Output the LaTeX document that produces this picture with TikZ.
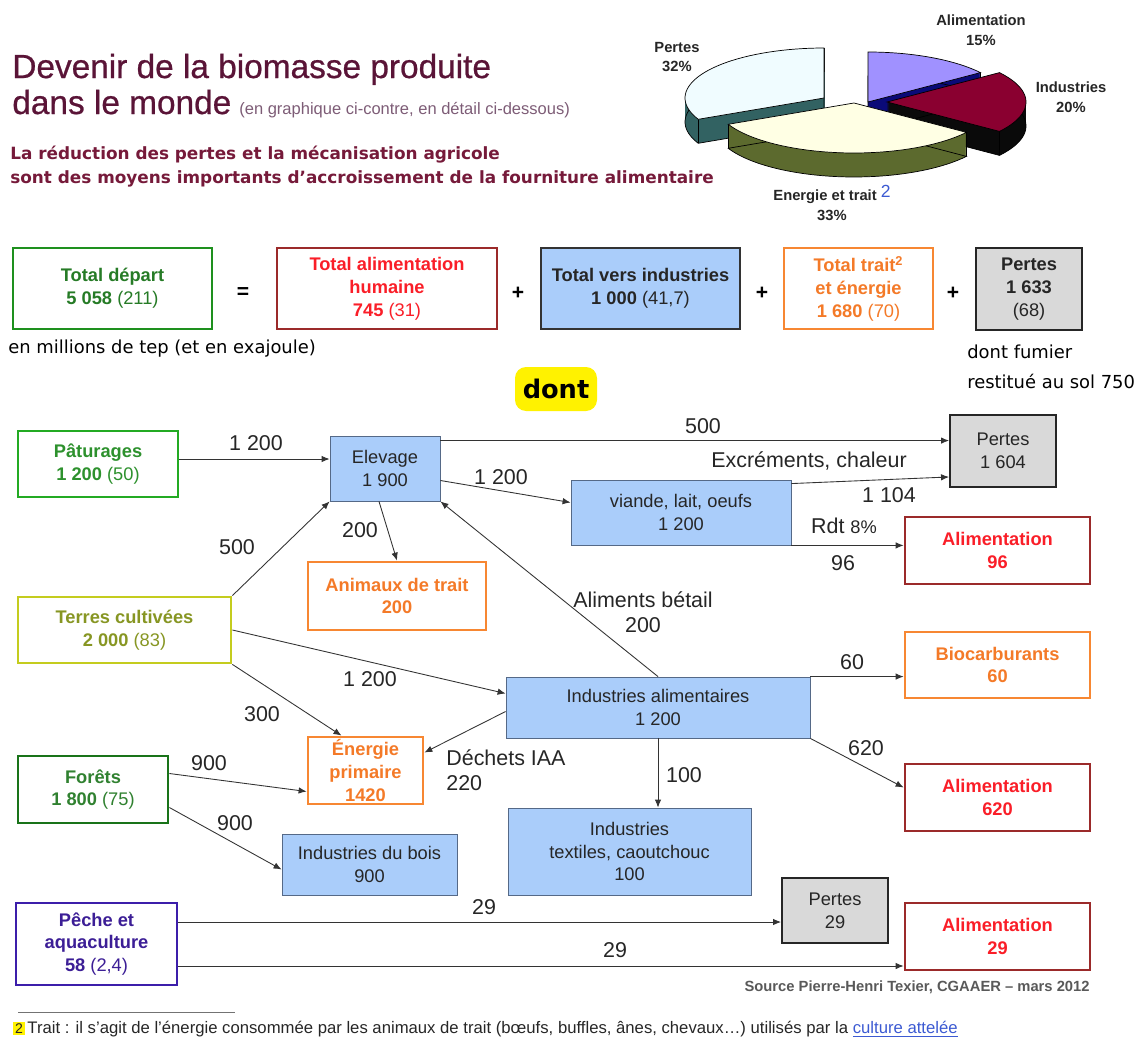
\documentclass[tikz,border=0pt]{standalone}
\usepackage{fontspec}
\setmainfont{Liberation Sans}
\newfontfamily\verdana{DejaVu Sans}
\newfontfamily\titrefont[FakeBold=0.7]{Liberation Sans}
\usetikzlibrary{calc,arrows.meta}

\definecolor{titre}{RGB}{90,20,55}
\definecolor{soustitre}{RGB}{118,26,58}
\definecolor{grismauve}{RGB}{125,92,118}
\definecolor{bleuclair}{RGB}{170,205,250}
\definecolor{bleubord}{RGB}{85,105,135}
\definecolor{grisclair}{RGB}{217,217,217}
\definecolor{rougebord}{RGB}{155,42,42}
\definecolor{rougetexte}{RGB}{250,30,40}
\definecolor{orangebord}{RGB}{247,135,50}
\definecolor{orangetexte}{RGB}{244,122,40}
\definecolor{vertbord}{RGB}{35,170,35}
\definecolor{verttexte}{RGB}{45,145,45}
\definecolor{vertfonce}{RGB}{25,115,25}
\definecolor{olivebord}{RGB}{196,204,30}
\definecolor{olivetexte}{RGB}{135,150,35}
\definecolor{violetbord}{RGB}{60,30,170}
\definecolor{violettexte}{RGB}{60,30,150}
\definecolor{bleulien}{RGB}{60,90,210}
\definecolor{pertesdessus}{RGB}{240,252,255}
\definecolor{pertescote}{RGB}{50,98,98}
\definecolor{alimdessus}{RGB}{160,145,255}
\definecolor{alimcote}{RGB}{10,10,120}
\definecolor{indusdessus}{RGB}{138,0,48}
\definecolor{induscote}{RGB}{10,10,10}
\definecolor{energdessus}{RGB}{255,255,228}
\definecolor{energcote}{RGB}{92,106,46}

\tikzstyle{boite}=[rectangle, draw, inner sep=0pt, align=center, font=\fontsize{10.4}{13}\selectfont]
\tikzstyle{bleu}=[boite, fill=bleuclair, draw=bleubord, line width=0.5pt, text=black!85]
\tikzstyle{gris}=[boite, fill=grisclair, draw=black!85, line width=1.1pt, text=black!85]
\tikzstyle{rouge}=[boite, fill=white, draw=rougebord, line width=1.6pt, text=rougetexte, font=\fontsize{10.4}{13}\selectfont\bfseries]
\tikzstyle{orange}=[boite, fill=white, draw=orangebord, line width=1.6pt, text=orangetexte, font=\fontsize{10.4}{13}\selectfont\bfseries]
\tikzstyle{vert}=[boite, fill=white, draw=vertbord, line width=1.6pt, text=verttexte]
\tikzstyle{total}=[font=\fontsize{10.4}{13}\selectfont\mdseries]
\tikzstyle{fleche}=[-{Latex[length=1.6mm,width=1.3mm]}, draw=black!80, line width=0.5pt]
\tikzstyle{valeur}=[inner sep=0pt, text=black!85, font=\fontsize{12.2}{14.2}\selectfont]
\tikzstyle{signe}=[inner sep=0pt, font=\fontsize{12}{12}\selectfont\bfseries]
\tikzstyle{legende}=[inner sep=0pt, align=center, text=black!85, font=\fontsize{8.4}{11.3}\selectfont\bfseries]

\begin{document}
\begin{tikzpicture}[x=0.02cm, y=0.02cm]
	\useasboundingbox (0,0) rectangle (1135,-1041);

	% titre
	\node[anchor=base west, inner sep=0pt, text=titre, font=\titrefont\fontsize{19}{22}\selectfont] (titre1) at (12,-78) {Devenir de la biomasse produite};
	\node[anchor=base west, inner sep=0pt, text=titre, font=\titrefont\fontsize{19}{22}\selectfont] (titre2) at (12,-114) {dans le monde};
	\node[anchor=base west, inner sep=0pt, text=grismauve, font=\fontsize{9.4}{11}\selectfont] (titre3) at (239,-114) {(en graphique ci-contre, en détail ci-dessous)};
	\node[anchor=base west, inner sep=0pt, text=soustitre, font=\verdana\fontsize{9.6}{11}\selectfont\bfseries] (sous1) at (10,-159) {La réduction des pertes et la mécanisation agricole};
	\node[anchor=base west, inner sep=0pt, text=soustitre, font=\verdana\fontsize{9.6}{11}\selectfont\bfseries] (sous2) at (10,-183) {sont des moyens importants d’accroissement de la fourniture alimentaire};

	% camembert
	\foreach \debut/\fin/\dx/\dy/\dessus/\cote in {90/205.2/-30/4/pertesdessus/pertescote, 36/90/14/0/alimdessus/alimcote, -36/36/33/0/indusdessus/induscote, -154.8/-36/0/-1/energdessus/energcote}
	{
		\begin{scope}[shift={(854+\dx,-102+\dy)}]
			\foreach \k in {24,...,1}
				\fill[\cote] (0,-\k) -- plot[domain=\debut:\fin, samples=40] ({139*cos(\x)},{50*sin(\x)-\k}) -- cycle;
			\draw[line width=0.4pt] (0,-24) -- plot[domain=\debut:\fin, samples=40] ({139*cos(\x)},{50*sin(\x)-24}) -- cycle;
			\draw[line width=0.4pt] ({139*cos(\debut)},{50*sin(\debut)}) -- ++(0,-24);
			\draw[line width=0.4pt] ({139*cos(\fin)},{50*sin(\fin)}) -- ++(0,-24);
			\filldraw[fill=\dessus, line width=0.4pt] (0,0) -- plot[domain=\debut:\fin, samples=40] ({139*cos(\x)},{50*sin(\x)}) -- cycle;
		\end{scope}
	}
	\node[legende] (l-alim) at (981,-30) {Alimentation\\15\%};
	\node[legende] (l-pertes) at (677,-57) {Pertes\\32\%};
	\node[legende] (l-indus) at (1071,-97) {Industries\\20\%};
	\node[legende] (l-energ) at (832,-203) {Energie et trait {\mdseries\fontsize{10}{10}\selectfont\color{bleulien}\raisebox{1.5pt}{2}}\\33\%};

	% totaux
	\node[vert, draw=vertbord!85!black, text=verttexte!85!black, minimum width=3.98cm, minimum height=1.62cm] (tdep) at (112.5,-288.5) {\textbf{Total départ}\\\textbf{5 058} (211)};
	\node[signe] (egal) at (243,-293) {=};
	\node[rouge, total, minimum width=4.4cm, minimum height=1.62cm] (talim) at (387,-288.5) {\textbf{Total alimentation}\\\textbf{humaine}\\\textbf{745} (31)};
	\node[signe] (plus1) at (518,-293) {+};
	\node[bleu, draw=black!80, line width=1pt, minimum width=3.98cm, minimum height=1.62cm] (tind) at (640.5,-288.5) {\textbf{Total vers industries}\\\textbf{1 000} (41,7)};
	\node[signe] (plus2) at (762,-293) {+};
	\node[orange, total, minimum width=2.98cm, minimum height=1.62cm] (ttrait) at (858.5,-288.5) {\textbf{Total trait\textsuperscript{2}}\\\textbf{et énergie}\\\textbf{1 680} (70)};
	\node[signe] (plus3) at (953,-293) {+};
	\node[gris, minimum width=2.12cm, minimum height=1.64cm] (tpert) at (1029,-289) {\textbf{Pertes}\\\textbf{1 633}\\(68)};
	\node[anchor=west, inner sep=0pt, font=\verdana\fontsize{10.2}{12}\selectfont] (unite) at (8,-349) {en millions de tep (et en exajoule)};
	\node[anchor=west, inner sep=0pt, font=\verdana\fontsize{10.2}{12}\selectfont] (fumier1) at (967,-352) {dont fumier};
	\node[anchor=west, inner sep=0pt, font=\verdana\fontsize{10.2}{12}\selectfont] (fumier2) at (967,-381) {restitué au sol 750};
	\node[fill=yellow, rounded corners=0.22cm, inner sep=0pt, minimum width=1.64cm, minimum height=0.88cm, font=\verdana\fontsize{14.6}{16}\selectfont\bfseries] (dont) at (556,-389) {dont};

	% ressources
	\node[vert, minimum width=3.2cm, minimum height=1.32cm] (pat) at (98,-464) {\textbf{Pâturages}\\\textbf{1 200} (50)};
	\node[vert, draw=olivebord, text=olivetexte, minimum width=4.26cm, minimum height=1.32cm] (terres) at (124.5,-630) {\textbf{Terres cultivées}\\\textbf{2 000} (83)};
	\node[vert, draw=vertfonce, text=vertfonce!90!white, minimum width=3cm, minimum height=1.34cm] (forets) at (93,-789.5) {\textbf{Forêts}\\\textbf{1 800} (75)};
	\node[vert, draw=violetbord, text=violettexte, minimum width=3.22cm, minimum height=1.64cm] (peche) at (96.5,-944) {\textbf{Pêche et}\\\textbf{aquaculture}\\\textbf{58} (2,4)};

	% transformations
	\node[bleu, minimum width=2.2cm, minimum height=1.3cm] (elev) at (385,-468.5) {Elevage\\1 900};
	\node[bleu, minimum width=4.4cm, minimum height=1.3cm] (viande) at (681,-512.5) {viande, lait, oeufs\\1 200};
	\node[bleu, minimum width=6.08cm, minimum height=1.22cm] (indal) at (658,-707.5) {Industries alimentaires\\1 200};
	\node[bleu, minimum width=4.86cm, minimum height=1.74cm] (indtex) at (629.5,-851.5) {Industries\\textiles, caoutchouc\\100};
	\node[bleu, minimum width=3.5cm, minimum height=1.22cm] (bois) at (369.5,-864.5) {Industries du bois\\900};
	\node[orange, minimum width=3.56cm, minimum height=1.36cm] (anim) at (397,-596) {Animaux de trait\\200};
	\node[orange, minimum width=2.3cm, minimum height=1.34cm] (ener) at (365.5,-770.5) {Énergie\\primaire\\1420};

	% destinations
	\node[gris, minimum width=2.12cm, minimum height=1.44cm] (pertA) at (1003,-451) {Pertes\\1 604};
	\node[rouge, minimum width=3.7cm, minimum height=1.34cm] (alimA) at (997.5,-550.5) {Alimentation\\96};
	\node[orange, minimum width=3.7cm, minimum height=1.32cm] (bio) at (997.5,-665) {Biocarburants\\60};
	\node[rouge, minimum width=3.7cm, minimum height=1.34cm] (alimB) at (997.5,-797.5) {Alimentation\\620};
	\node[gris, minimum width=2.12cm, minimum height=1.3cm] (pertB) at (835,-910.5) {Pertes\\29};
	\node[rouge, minimum width=3.7cm, minimum height=1.34cm] (alimC) at (997.5,-936.5) {Alimentation\\29};

	% flux
	\draw[fleche] ($(pat.east)+(0,5)$) -- ($(pat.east -| elev.west)+(0,5)$);
	\draw[fleche] ($(elev.north east)+(0,-5)$) -- ($(elev.north east -| pertA.west)+(0,-5)$);
	\draw[fleche] ($(elev.east)+(0,-12)$) -- ($(viande.west)+(0,10)$);
	\draw[fleche] ($(viande.north east)+(0,-4)$) -- ($(pertA.south west)+(0,11)$);
	\draw[fleche] (viande.south east) -- (viande.south east -| alimA.west);
	\draw[fleche] ($(elev.south)+(-6,0)$) -- (anim.north);
	\draw[fleche] (terres.north east) -- (elev.south west);
	\draw[fleche] (indal.north) -- (elev.south east);
	\draw[fleche] (terres.east) -- ($(indal.west)+(0,14)$);
	\draw[fleche] (terres.south east) -- ($(ener.north)+(-24,0)$);
	\draw[fleche] ($(indal.west)+(0,-4)$) -- ($(ener.east)+(0,18)$);
	\draw[fleche] ($(forets.east)+(0,16)$) -- ($(ener.west)+(0,-21)$);
	\draw[fleche] ($(forets.east)+(0,-18)$) -- ($(bois.west)+(0,-5)$);
	\draw[fleche] (indal.north east) -- (indal.north east -| bio.west);
	\draw[fleche] (indal.south east) -- ($(alimB.west)+(0,10)$);
	\draw[fleche] (indal.south) -- (indal.south |- indtex.north);
	\draw[fleche] ($(peche.east)+(0,22)$) -- ($(peche.east -| pertB.west)+(0,22)$);
	\draw[fleche] ($(peche.east)+(0,-22)$) -- ($(peche.east -| alimC.west)+(0,-22)$);

	% valeurs
	\node[valeur] (v-pat) at (256,-443) {1 200};
	\node[valeur] (v-pertes) at (703,-426) {500};
	\node[valeur] (v-viande) at (501,-477) {1 200};
	\node[valeur] (v-excr) at (809,-461) {Excréments, chaleur};
	\node[valeur] (v-1104) at (889,-495) {1 104};
	\node[valeur] (v-rdt) at (844,-526) {Rdt {\fontsize{10.4}{12}\selectfont 8\%}};
	\node[valeur] (v-96) at (843,-563) {96};
	\node[valeur] (v-anim) at (360,-530) {200};
	\node[valeur] (v-terres) at (237,-547) {500};
	\node[valeur, align=center] (v-aliments) at (643,-612.5) {Aliments bétail\\200};
	\node[valeur] (v-indal) at (370,-679) {1 200};
	\node[valeur] (v-300) at (262,-714) {300};
	\node[valeur, align=left, anchor=west] (v-dechets) at (446,-770.5) {Déchets IAA\\220};
	\node[valeur] (v-900a) at (209,-763) {900};
	\node[valeur] (v-900b) at (235,-823) {900};
	\node[valeur] (v-60) at (852,-662) {60};
	\node[valeur] (v-620) at (866,-748) {620};
	\node[valeur] (v-100) at (684,-775) {100};
	\node[valeur] (v-29a) at (484,-907) {29};
	\node[valeur] (v-29b) at (615,-950) {29};

	% source et note
	\node[anchor=east, inner sep=0pt, text=black!65, font=\fontsize{8.4}{10}\selectfont\bfseries] (source) at (1090,-987) {Source Pierre-Henri Texier, CGAAER – mars 2012};
	\draw[black!55, line width=0.4pt] (18,-1012) -- (235,-1012);
	\node[anchor=west, inner sep=0pt, text=black!85, font=\fontsize{9.5}{10}\selectfont] (note) at (13,-1029) {{\setlength{\fboxsep}{1pt}\colorbox{yellow}{\fontsize{8}{8}\selectfont 2}}\,Trait : il s’agit de l’énergie consommée par les animaux de trait (bœufs, buffles, ânes, chevaux…) utilisés par la {\color{bleulien}\underline{culture attelée}}};
\end{tikzpicture}
\end{document}
